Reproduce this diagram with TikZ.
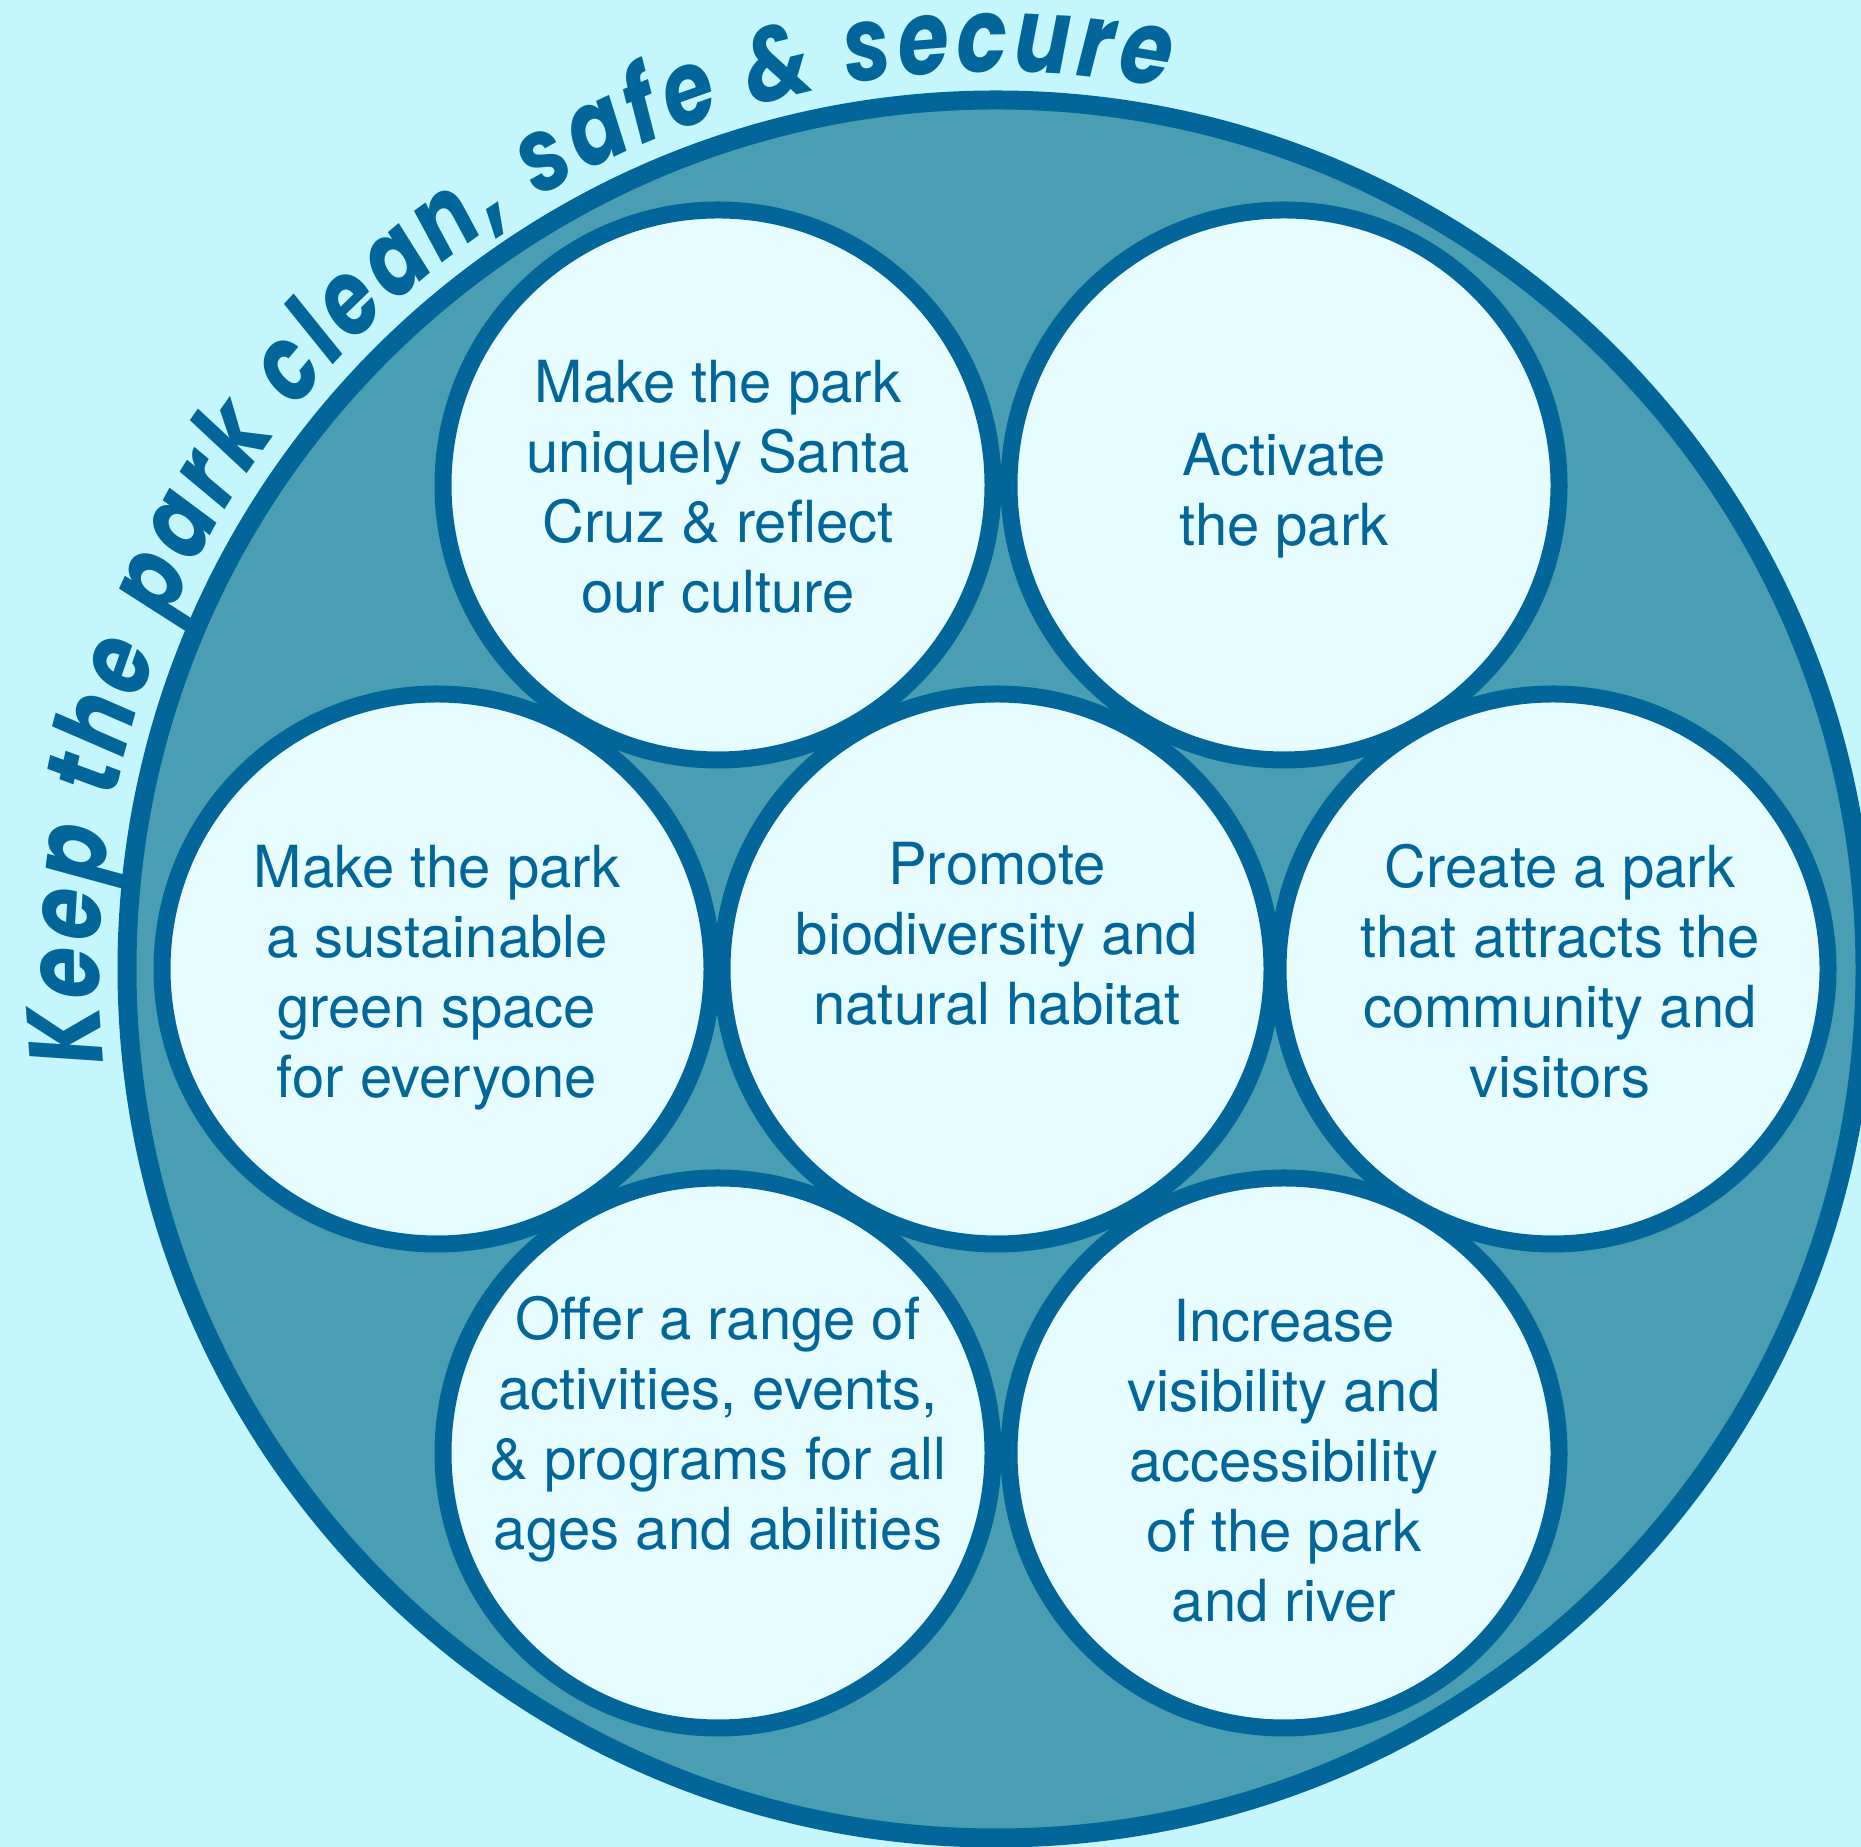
\documentclass[tikz,border=0pt]{standalone}
\usepackage{fontspec}
\setmainfont{TeX Gyre Heros}
\newfontfamily\titlefont{Poppins}[FakeStretch=0.8]
\usetikzlibrary{decorations.text}
\definecolor{bgcol}{HTML}{C5F6FE}
\definecolor{ringfill}{HTML}{4A9EB3}
\definecolor{dkblue}{HTML}{02669A}
\definecolor{bubblefill}{HTML}{E6FCFE}
\tikzset{
  ring/.style={circle, draw=dkblue, fill=ringfill, line width=19pt, minimum size=1738pt, inner sep=0pt},
  bubble/.style={circle, draw=dkblue, fill=bubblefill, line width=17pt, minimum size=550pt, inner sep=0pt},
  lbl/.style={anchor=base, text=dkblue, inner sep=0pt, font=\fontsize{58}{70}\selectfont},
}
\begin{document}
\begin{tikzpicture}[x=1pt,y=1pt]
\fill[bgcol] (0,0) rectangle (1861,1847);
\useasboundingbox (0,0) rectangle (1861,1847);
\coordinate (O) at (996,878);
\node[ring] (ring) at (O) {};
\node[bubble] (c)  at (997,878) {};
\node[bubble] (tl) at (718,1362) {};
\node[bubble] (tr) at (1284,1362) {};
\node[bubble] (l)  at (437,878) {};
\node[bubble] (r)  at (1553,878) {};
\node[bubble] (bl) at (718,394) {};
\node[bubble] (br) at (1284,394) {};

\node[lbl] (tlt) at (718,1444) {\begin{tabular}[t]{@{}c@{}}Make the park\\uniquely Santa\\Cruz \& reflect\\our culture\end{tabular}};
\node[lbl] (trt) at (1284,1371) {\begin{tabular}[t]{@{}c@{}}Activate\\the park\end{tabular}};
\node[lbl] (lt) at (437,959) {\begin{tabular}[t]{@{}c@{}}Make the park\\a sustainable\\green space\\for everyone\end{tabular}};
\node[lbl] (ct) at (997,962) {\begin{tabular}[t]{@{}c@{}}Promote\\biodiversity and\\natural habitat\end{tabular}};
\node[lbl] (rt) at (1560,959) {\begin{tabular}[t]{@{}c@{}}Create a park\\that attracts the\\community and\\visitors\end{tabular}};
\node[lbl] (blt) at (718,507) {\begin{tabular}[t]{@{}c@{}}Offer a range of\\activities, events,\\\& programs for all\\ages and abilities\end{tabular}};
\node[lbl] (brt) at (1284,505) {\begin{tabular}[t]{@{}c@{}}Increase\\visibility and\\accessibility\\of the park\\and river\end{tabular}};

\path[decorate, decoration={text along path, text align=fit to path, text color=dkblue,
  text={|\titlefont\bfseries\itshape\fontsize{104}{104}\selectfont|Keep the park clean, safe {\&} secure}}]
  (O) ++(186:897pt) arc[start angle=186, end angle=79, radius=897pt];
\end{tikzpicture}
\end{document}
